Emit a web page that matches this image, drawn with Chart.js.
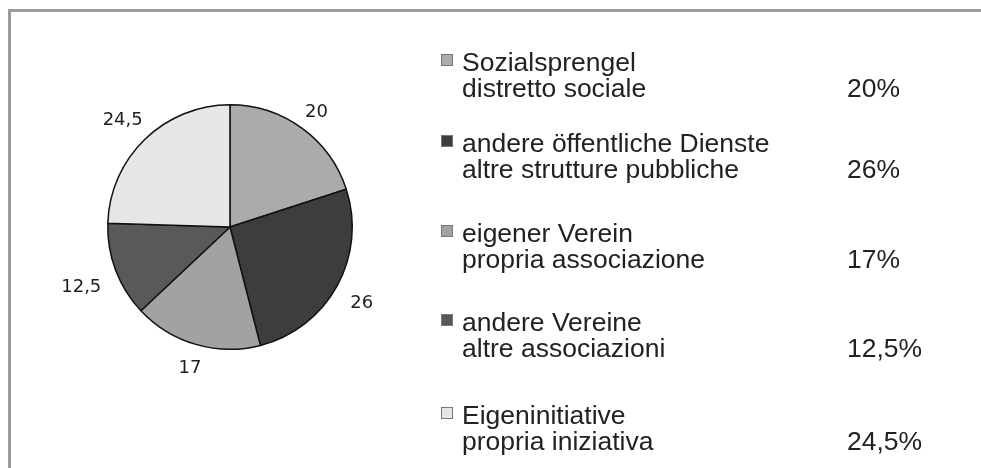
<!DOCTYPE html>
<html lang="de">
<head>
  <meta charset="UTF-8" />
  <title>Sozialsprengel / distretto sociale</title>
  <script src="https://cdn.jsdelivr.net/npm/chart.js@4"></script>
  <style>
    html, body {
      margin: 0;
      padding: 0;
      background: #fff;
      overflow: hidden;
    }
    .wrap {
      position: relative;
      width: 981px;
      height: 468px;
    }
    .frame {
      position: absolute;
      left: 8px;
      top: 9px;
      right: -10px;
      bottom: -10px;
      border-top: 3px solid #9c9c9c;
      border-left: 3px solid #9c9c9c;
      pointer-events: none;
    }
    canvas { display: block; }
  </style>
</head>
<body>
<div class="wrap">
  <canvas id="pie" width="981" height="468"></canvas>
  <div class="frame"></div>
</div>

<script>
  // categories (German / Italian) and values in %
  const labelsDe = [
    'Sozialsprengel',
    'andere öffentliche Dienste',
    'eigener Verein',
    'andere Vereine',
    'Eigeninitiative'
  ];
  const labelsIt = [
    'distretto sociale',
    'altre strutture pubbliche',
    'propria associazione',
    'altre associazioni',
    'propria iniziativa'
  ];
  const values = [20, 26, 17, 12.5, 24.5];
  const sliceColors = ['#ababab', '#3d3d3d', '#a2a2a2', '#595959', '#e6e6e6'];

  const fmt = v => String(v).replace('.', ',');

  // numbers around the pie
  const outsideLabels = {
    id: 'outsideLabels',
    afterDatasetsDraw(chart) {
      const ctx = chart.ctx;
      const meta = chart.getDatasetMeta(0);
      ctx.save();
      ctx.font = '18px "DejaVu Sans", sans-serif';
      ctx.fillStyle = '#1e1e1e';
      ctx.textAlign = 'center';
      ctx.textBaseline = 'middle';
      meta.data.forEach((arc, i) => {
        const p = arc.getProps(['x', 'y', 'startAngle', 'endAngle', 'outerRadius'], true);
        const a = (p.startAngle + p.endAngle) / 2;
        const txt = fmt(values[i]);
        const w = ctx.measureText(txt).width;
        const r = p.outerRadius + 18 + 0.5 * w * Math.abs(Math.cos(a));
        ctx.fillText(txt, p.x + Math.cos(a) * r, p.y + Math.sin(a) * r + 4);
      });
      ctx.restore();
    }
  };

  // two-line legend on the right with percentages
  const sideLegend = {
    id: 'sideLegend',
    afterDraw(chart, args, opts) {
      const ctx = chart.ctx;
      const text = (s, x, y) => {
        ctx.save();
        ctx.translate(x, y);
        ctx.scale(opts.stretch, 1);
        ctx.fillText(s, 0, 0);
        ctx.restore();
      };
      ctx.save();
      ctx.font = '25px "Liberation Sans", Arial, sans-serif';
      ctx.textBaseline = 'alphabetic';
      labelsDe.forEach((de, i) => {
        const y = opts.rows[i];
        ctx.fillStyle = sliceColors[i];
        ctx.fillRect(opts.boxX, y - 17, 11, 11);
        ctx.strokeStyle = '#777';
        ctx.lineWidth = 1;
        ctx.strokeRect(opts.boxX + 0.5, y - 16.5, 11, 11);
        ctx.fillStyle = '#222';
        text(de, opts.textX, y);
        text(labelsIt[i], opts.textX, y + opts.lineGap);
        text(fmt(values[i]) + '%', opts.pctX, y + opts.lineGap);
      });
      ctx.restore();
    }
  };

  new Chart(document.getElementById('pie'), {
    type: 'pie',
    data: {
      labels: labelsDe,
      datasets: [{
        data: values,
        backgroundColor: sliceColors,
        borderColor: '#111',
        borderWidth: 1.5
      }]
    },
    options: {
      responsive: false,
      animation: false,
      layout: {
        padding: { left: 106, right: 627, top: 104, bottom: 118 }
      },
      plugins: {
        legend: { display: false },
        tooltip: { enabled: false },
        sideLegend: {
          boxX: 441,
          textX: 462,
          pctX: 847,
          lineGap: 26,
          stretch: 1.06,
          rows: [71, 152, 242, 331, 424]
        }
      }
    },
    plugins: [outsideLabels, sideLegend]
  });
</script>
</body>
</html>
